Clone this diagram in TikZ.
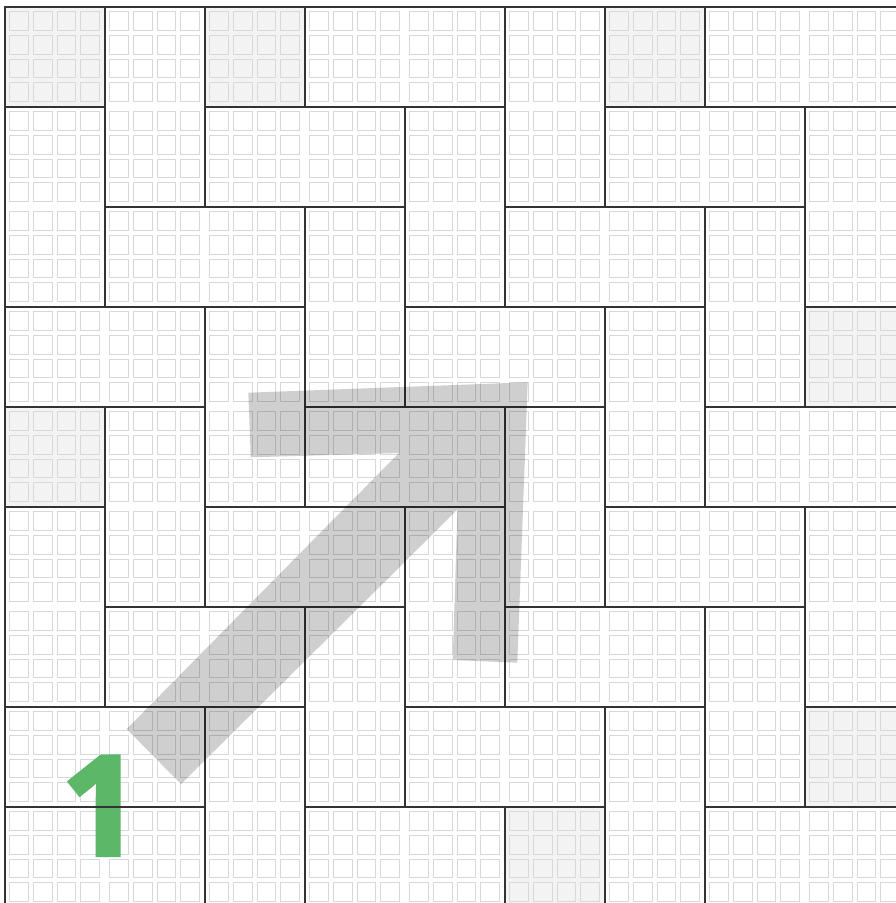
\documentclass[tikz,border=0pt]{standalone}
\usepackage{fontspec}
\newfontfamily\onefont[FakeBold=3]{Open Sans}
\definecolor{tileline}{HTML}{333333}
\definecolor{sqline}{HTML}{D8D8D8}
\definecolor{shade}{HTML}{F3F3F3}
\definecolor{onegreen}{RGB}{92,184,104}
\begin{document}
\begin{tikzpicture}[x=1pt,y=-1pt,
  tilebox/.style={draw=tileline,line width=1.6pt},
  subsq/.style={draw=sqline,line width=1pt},
  shadecell/.style={fill=shade},
  arrowshape/.style={fill=black,fill opacity=0.19},
  digitone/.style={text=onegreen,font=\onefont\bfseries\fontsize{138}{138}\selectfont,inner sep=0pt}]
\useasboundingbox (0,0) rectangle (896,903);
\clip (0,0) rectangle (896,903);
\fill[white] (0,0) rectangle (896,903);
% shaded half tiles
\foreach \c/\r in {0/0,2/0,6/0,8/3,0/4,8/7,5/8}
  \fill[shadecell] (5+100*\c,7+100*\r) rectangle ++(100,100);
% small squares
\foreach \c in {0,...,8}
 \foreach \r in {0,...,8}
  \foreach \i in {0,...,3}
   \foreach \j in {0,...,3}
     \draw[subsq] ({5+100*\c+4.6+23.7*\i},{7+100*\r+4.6+23.7*\j}) rectangle ++(18.8,18.8);
% digit (under the tile lines)
\node[digitone,anchor=base] (one) at (101,855) {1};
% tiles
\foreach \c/\r/\w/\h in {0/0/1/1,1/0/1/2,2/0/1/1,3/0/2/1,5/0/1/2,6/0/1/1,7/0/2/1,
  0/1/1/2,2/1/2/1,4/1/1/2,6/1/2/1,8/1/1/2,
  1/2/2/1,3/2/1/2,5/2/2/1,7/2/1/2,
  0/3/2/1,2/3/1/2,4/3/2/1,6/3/1/2,8/3/2/1,
  0/4/1/1,1/4/1/2,3/4/2/1,5/4/1/2,7/4/2/1,
  0/5/1/2,2/5/2/1,4/5/1/2,6/5/2/1,8/5/1/2,
  1/6/2/1,3/6/1/2,5/6/2/1,7/6/1/2,
  0/7/2/1,2/7/1/2,4/7/2/1,6/7/1/2,8/7/2/1,
  0/8/2/1,3/8/2/1,5/8/1/2,7/8/2/1}
  \draw[tilebox] (5+100*\c,7+100*\r) rectangle ++(100*\w,100*\h);
% arrow
\fill[arrowshape] (248.3,392.7) -- (527.7,382.3) -- (517.3,662.7) -- (452.7,660)
  -- (457.5,509.5) -- (181,784) -- (126.7,729) -- (399,453) -- (250.7,457.3) -- cycle;
\end{tikzpicture}
\end{document}
